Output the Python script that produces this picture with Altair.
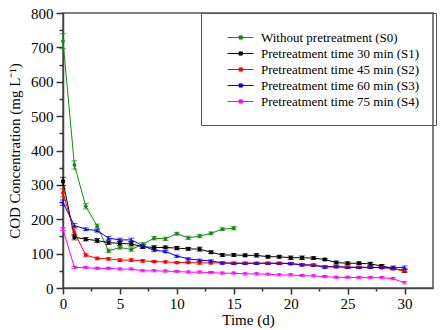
import altair as alt
import pandas as pd

series_names = [
    "Without pretreatment (S0)",
    "Pretreatment time 30 min (S1)",
    "Pretreatment time 45 min (S2)",
    "Pretreatment time 60 min (S3)",
    "Pretreatment time 75 min (S4)",
]
colors = ["#138a13", "#000000", "#ff0000", "#0000ff", "#ff00ff"]
shapes = ["circle", "square", "circle", "triangle-up", "triangle-down"]

days_s0 = list(range(16))
days_all = list(range(31))

s0 = [718, 358, 238, 180, 108, 118, 112, 127, 145, 143, 158, 146, 151, 159, 171, 174]
s0_err = [22, 12, 8, 6, 5, 5, 5, 5, 5, 5, 4, 5, 5, 4, 4, 5]
s1 = [310, 148, 142, 138, 132, 130, 128, 120, 118, 118, 116, 114, 113, 104, 96, 96,
      95, 95, 91, 91, 88, 88, 87, 83, 74, 72, 72, 70, 64, 57, 50]
s1_err = [12, 8, 5, 6, 5, 7, 6, 5, 5, 4, 5, 4, 6, 4, 4, 4, 4, 5, 4, 4, 5, 5, 4, 3, 4,
          4, 4, 5, 4, 3, 4]
s2 = [277, 162, 96, 86, 85, 81, 81, 79, 77, 76, 74, 74, 73, 73, 73, 72, 72, 72, 72, 72,
      71, 68, 67, 62, 62, 61, 60, 60, 59, 56, 50]
s2_err = [12, 10, 5, 4, 4, 4, 4, 4, 3, 3, 3, 3, 4, 3, 3, 3, 3, 3, 3, 3, 3, 3, 3, 3, 3,
          3, 3, 3, 3, 3, 4]
s3 = [248, 182, 171, 167, 145, 140, 140, 123, 110, 106, 93, 85, 81, 79, 73, 72, 72, 72,
      72, 72, 71, 67, 66, 61, 62, 60, 60, 60, 60, 60, 60]
s3_err = [8, 6, 4, 4, 5, 5, 5, 4, 3, 3, 3, 3, 3, 3, 3, 3, 3, 3, 3, 3, 3, 3, 3, 3, 3,
          3, 3, 3, 3, 4, 4]
s4 = [171, 60, 59, 57, 57, 55, 55, 50, 50, 49, 48, 46, 46, 45, 43, 43, 41, 41, 40, 38,
      38, 36, 35, 33, 31, 31, 30, 30, 30, 27, 15]
s4_err = [4, 3, 3, 3, 3, 3, 3, 3, 3, 3, 3, 3, 3, 3, 3, 3, 3, 3, 3, 3, 3, 3, 3, 3, 3,
          3, 3, 3, 3, 3, 3]

x_major = [0, 5, 10, 15, 20, 25, 30]
x_minor = [2.5, 7.5, 12.5, 17.5, 22.5, 27.5]
y_major = [0, 100, 200, 300, 400, 500, 600, 700, 800]
y_minor = [50, 150, 250, 350, 450, 550, 650, 750]

rows = []
for name, d, vals, errs in [
    (series_names[0], days_s0, s0, s0_err),
    (series_names[1], days_all, s1, s1_err),
    (series_names[2], days_all, s2, s2_err),
    (series_names[3], days_all, s3, s3_err),
    (series_names[4], days_all, s4, s4_err),
]:
    for t, v, e in zip(d, vals, errs):
        rows.append({"series": name, "day": t, "cod": v, "lo": v - e, "hi": v + e})
df = pd.DataFrame(rows)

FONT = "Liberation Serif"
xs = alt.Scale(domain=[0, 32.5], nice=False, zero=False)
ys = alt.Scale(domain=[0, 800], nice=False)
cs = alt.Scale(domain=series_names, range=colors)

common = dict(
    grid=False, ticks=True, tickColor="#333", tickWidth=1.5, tickOpacity=1,
    labelFont=FONT, titleFont=FONT, labelFontWeight="normal", titleFontWeight="normal",
    labelColor="#000", titleColor="#000", labelFontSize=15, titleFontSize=15,
    labelOverlap=False, labelBound=False, labelFlush=False,
)

x_axis = alt.Axis(
    title="Time (d)", orient="bottom", values=x_major, tickSize=6,
    labelPadding=2, titlePadding=1, domain=True, domainColor="#444", domainWidth=1.5,
    **common,
)
y_axis = alt.Axis(
    title="COD Concentration (mg L\u207b\u00b9)", orient="left", values=y_major,
    tickSize=7, labelPadding=3, titlePadding=8, domain=True, domainColor="#444",
    domainWidth=1.5, **common,
)
x_minor_axis = alt.Axis(
    title=None, orient="bottom", values=x_minor, tickSize=3, labels=False,
    domain=False, grid=False, ticks=True, tickColor="#333", tickWidth=1.5,
)
y_minor_axis = alt.Axis(
    title=None, orient="left", values=y_minor, tickSize=4, labels=False,
    domain=False, grid=False, ticks=True, tickColor="#333", tickWidth=1.5,
)

base = alt.Chart(df)

minor = base.mark_line(opacity=0).encode(
    x=alt.X("day:Q", scale=xs, axis=x_minor_axis),
    y=alt.Y("cod:Q", scale=ys, axis=y_minor_axis),
    detail="series:N",
)

X = alt.X("day:Q", scale=xs, axis=x_axis)
Y = alt.Y("cod:Q", scale=ys, axis=y_axis)
Ylo = alt.Y("lo:Q", scale=ys, axis=y_axis)
Yhi = alt.Y("hi:Q", scale=ys, axis=y_axis)
C = alt.Color("series:N", scale=cs, legend=None)

line = base.mark_line(strokeWidth=1).encode(
    x=X, y=Y,
    color=alt.Color(
        "series:N", scale=cs, sort=series_names,
        legend=alt.Legend(
            title=None, orient="none", legendX=138, legendY=0,
            symbolType="M0.25,0H3.5M1.7,-0.2H2.1V0.2H1.7Z",
            symbolSize=256, symbolStrokeWidth=1,
            labelFont=FONT, labelFontSize=13, labelFontWeight="normal",
            labelColor="#000", labelLimit=400,
            padding=16, strokeColor="#555", rowPadding=0, labelOffset=27,
        ),
    ),
    detail="series:N",
)

err = base.mark_rule(strokeWidth=1).encode(x=X, y=Ylo, y2="hi:Q", color=C)
cap_lo = base.mark_tick(size=6, thickness=1, orient="horizontal").encode(x=X, y=Ylo, color=C)
cap_hi = base.mark_tick(size=6, thickness=1, orient="horizontal").encode(x=X, y=Yhi, color=C)
pt_layers = []
for name, shp in zip(series_names, shapes):
    pt_layers.append(
        base.transform_filter(alt.datum.series == name)
        .mark_point(filled=True, size=14, opacity=1, shape=shp)
        .encode(x=X, y=Y, color=C)
    )

main = alt.layer(line, err, cap_lo, cap_hi, *pt_layers)

chart = alt.layer(minor, main).resolve_axis(
    x="independent", y="independent"
).properties(
    width=370, height=275,
    autosize=alt.AutoSizeParams(type="none"),
    padding={"left": 63, "top": 13, "right": 8, "bottom": 42},
    background="white",
).configure_view(
    stroke="#555", strokeWidth=1.5,
).configure_axis(
    ticks=True, tickColor="#333", tickWidth=1.5,
    labelFont=FONT, titleFont=FONT, labelFontWeight="normal", titleFontWeight="normal",
).configure_legend(
    labelFont=FONT, labelFontWeight="normal",
)

chart.save("out.html", embed_options={"renderer": "svg", "actions": False})
